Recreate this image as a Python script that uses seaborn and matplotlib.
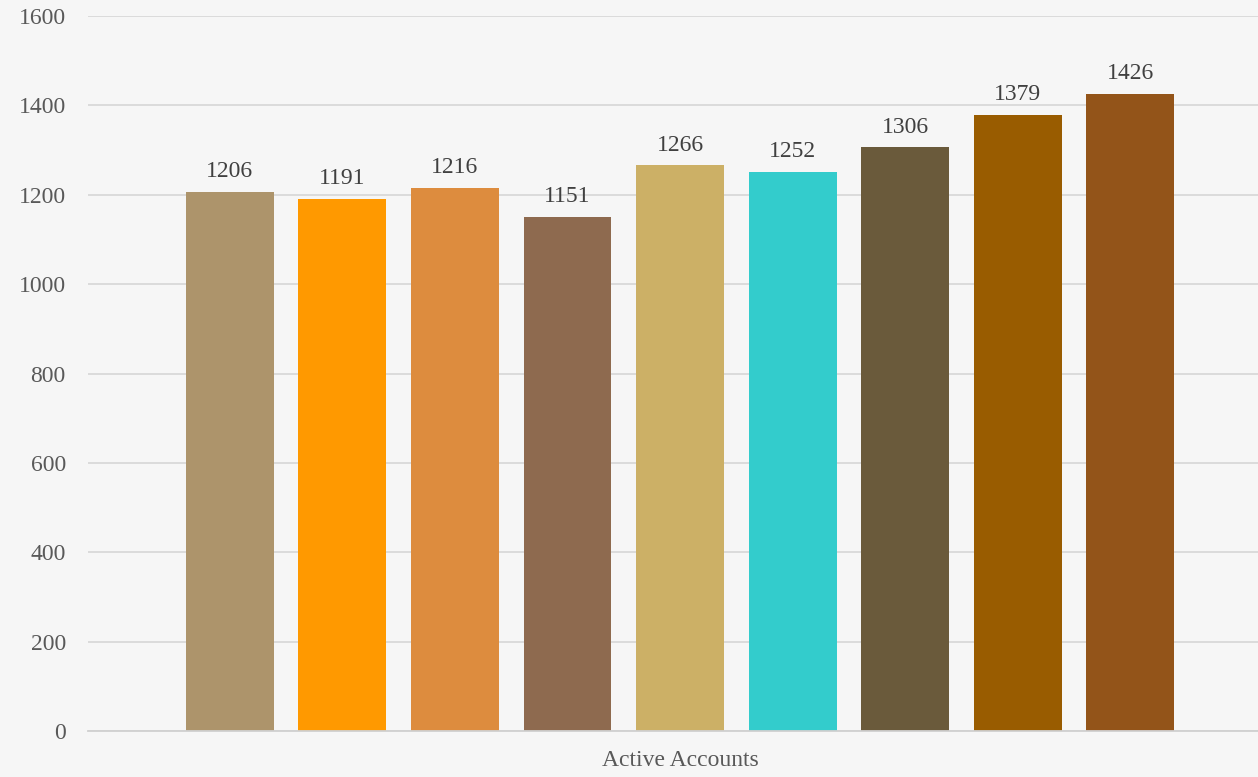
import matplotlib
matplotlib.use("Agg")
import matplotlib.pyplot as plt
import seaborn as sns
import pandas as pd

category = ["Active Accounts"]
series = ["S1", "S2", "S3", "S4", "S5", "S6", "S7", "S8", "S9"]
values = [1206, 1191, 1216, 1151, 1266, 1252, 1306, 1379, 1426]
colors = ["#AD946B", "#FF9900", "#DD8C3E", "#8E6A4F", "#CCB066",
          "#33CCCC", "#6A5A3B", "#995C00", "#935419"]
yticks = [0, 200, 400, 600, 800, 1000, 1200, 1400, 1600]

df = pd.DataFrame({"cat": category * len(series), "series": series, "value": values})

sns.set_theme(style="white")
plt.rcParams["font.family"] = ["Liberation Serif", "DejaVu Serif"]

fig = plt.figure(figsize=(12.58, 7.77), dpi=100)
fig.patch.set_facecolor("#F6F6F6")
ax = fig.add_axes([88/1258, 1 - 731/777, 1 - 88/1258, (731 - 16)/777])
ax.set_facecolor("#F6F6F6")

sns.barplot(data=df, x="cat", y="value", hue="series", palette=colors,
            width=0.866, gap=0.22, ax=ax, legend=False, saturation=1,
            errorbar=None, linewidth=0, edgecolor="none")

for cont in ax.containers:
    ax.bar_label(cont, fmt="%d", padding=7, fontsize=17, color="#404040")

ax.set_ylim(0, 1600)
ax.set_xlim(-0.506, 0.494)
ax.set_yticks(yticks)
ax.yaxis.grid(True, color="#D9D9D9", linewidth=1.3)
ax.set_axisbelow(True)
for s in ["top", "right", "left"]:
    ax.spines[s].set_visible(False)
ax.spines["bottom"].set_color("#D0D0D0")
ax.spines["bottom"].set_linewidth(1.3)
ax.set_xticks([-0.505], minor=True)
ax.tick_params(axis="x", which="minor", length=7, width=1.3, color="#D0D0D0")
ax.tick_params(axis="y", length=0, pad=16, labelsize=17, labelcolor="#595959")
ax.tick_params(axis="x", which="major", length=0, pad=14, labelsize=17, labelcolor="#595959")
ax.set_xlabel("")
ax.set_ylabel("")

fig.savefig("out.png", dpi=100, facecolor=fig.get_facecolor())
